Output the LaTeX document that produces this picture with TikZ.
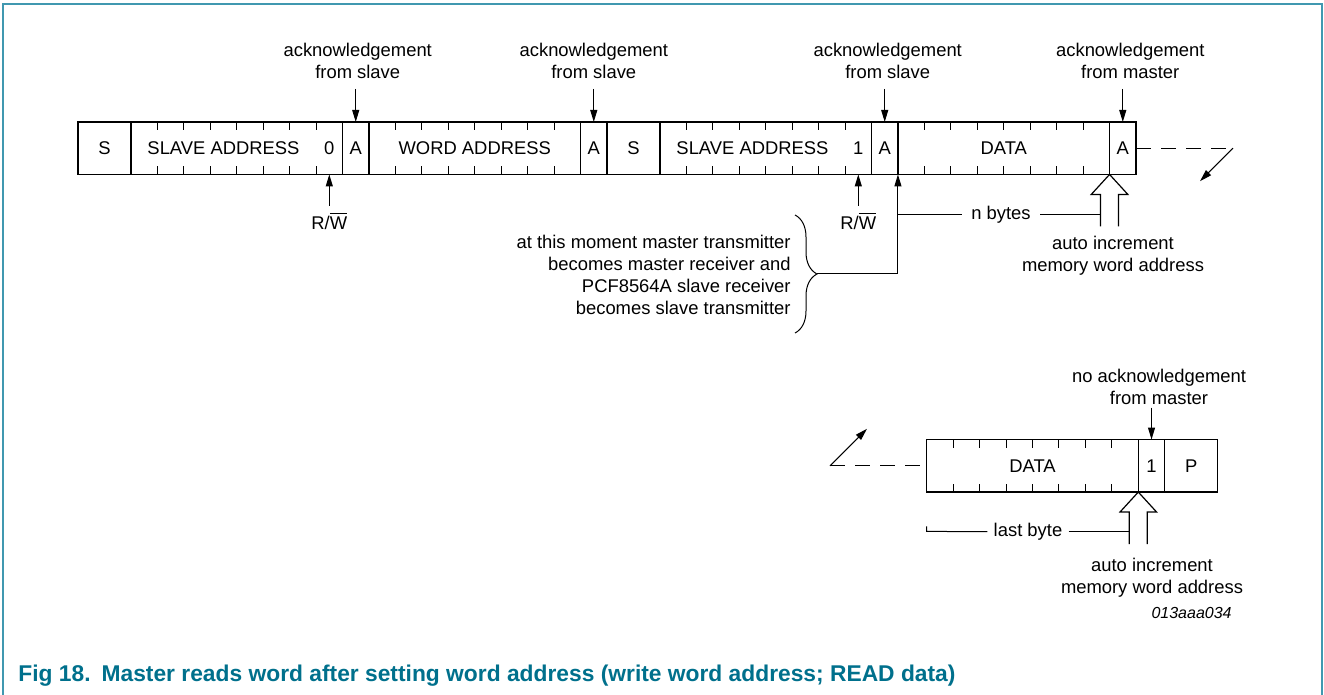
\documentclass[tikz,border=0pt]{standalone}
\usepackage{fontspec}
\setmainfont{Liberation Sans}
\usetikzlibrary{positioning,arrows.meta,decorations.pathreplacing}
\definecolor{figteal}{RGB}{0,112,140}
\definecolor{boxteal}{RGB}{64,152,176}
\tikzset{
  cell/.style={draw, line width=0.65pt, minimum height=26.25pt, inner sep=0pt, outer sep=0pt},
  bits/.style={minimum width=#1*13.225pt},
  bitcell/.style={minimum height=26.25pt, minimum width=13.225pt, inner sep=0pt, outer sep=0pt},
  note/.style={align=center, inner sep=0pt},
  tip/.style={line width=0.5pt, -{Triangle[length=6pt,width=3.5pt]}},
  cont/.style={line width=0.6pt, dash pattern=on 7.5pt off 5pt},
  uparrow/.pic={
    \draw[line width=0.6pt] (-9,52) -- (-9,20) -- (-18.3,20) -- (0,0) -- (18.3,20) -- (9,20) -- (9,52);
    \coordinate (-l) at (-9,40);
  },
}
\begin{document}
\begin{tikzpicture}[x=0.5pt,y=-0.5pt,font=\fontsize{9.2}{11}\selectfont]
    \useasboundingbox (0,0) rectangle (1324,695);
    %% frame
    \draw[boxteal, line width=1pt] (3,695) -- (3,4) -- (1322,4) -- (1322,695);
    %% first line: write word address, then read
    \node[cell, bits=2, anchor=west] (s1) at (78,148.2) {S};
    \node[cell, bits=8, right=0pt of s1] (sa1) {};
    \node[cell, bits=1, right=0pt of sa1] (a1) {A};
    \node[cell, bits=8, right=0pt of a1] (wa) {WORD ADDRESS};
    \node[cell, bits=1, right=0pt of wa] (a2) {A};
    \node[cell, bits=2, right=0pt of a2] (s2) {S};
    \node[cell, bits=8, right=0pt of s2] (sa2) {};
    \node[cell, bits=1, right=0pt of sa2] (a3) {A};
    \node[cell, bits=8, right=0pt of a3] (data1) {DATA};
    \node[cell, bits=1, right=0pt of data1] (a4) {A};
    \node at ([xshift=-6.6pt]sa1.center) {SLAVE ADDRESS};
    \node[bitcell] (r0) at ([xshift=-6.6pt]sa1.east) {0};
    \node at ([xshift=-6.6pt]sa2.center) {SLAVE ADDRESS};
    \node[bitcell] (r1) at ([xshift=-6.6pt]sa2.east) {1};
    %% second line: last byte
    \node[cell, bits=8, anchor=west] (data2) at (926.7,465.8) {DATA};
    \node[cell, bits=1, right=0pt of data2] (one) {1};
    \node[cell, bits=2, right=0pt of one] (p) {P};
    %% bit ticks
    \foreach \f in {sa1,wa,sa2,data1,data2}
      \foreach \k in {1,...,7} {
        \draw[line width=0.5pt] (\f.north west) ++(\k*26.45,0) -- ++(0,8);
        \draw[line width=0.5pt] (\f.south west) ++(\k*26.45,0) -- ++(0,-8);
      }
    %% acknowledge labels
    \node[note, above=21.5pt of a1, xshift=1pt] (ack1) {acknowledgement\\from slave};
    \node[note, above=21.5pt of a2] (ack2) {acknowledgement\\from slave};
    \node[note, above=21.5pt of a3, xshift=1.5pt] (ack3) {acknowledgement\\from slave};
    \node[note, above=21.5pt of a4, xshift=3.75pt] (ack4) {acknowledgement\\from master};
    \node[note, above=17pt of one, xshift=3.75pt] (ack5) {no acknowledgement\\from master};
    \foreach \l/\c in {ack1/a1,ack2/a2,ack3/a3,ack4/a4}
      \draw[tip, shorten <=5pt] (\c.north |- \l.south) -- (\c.north);
    \draw[tip, shorten <=1pt] (one.north |- ack5.south) -- (one.north);
    %% read/write bit
    \node[note, below=18.75pt of r0] (rw1) {R/$\overline{\mbox{W}}$};
    \node[note, below=18.75pt of r1] (rw2) {R/$\overline{\mbox{W}}$};
    \draw[tip, shorten <=3pt] (rw1) -- (r0);
    \draw[tip, shorten <=3pt] (rw2) -- (r1);
    %% direction change
    \node[align=right, inner sep=0pt, anchor=east] (moment) at (791,275)
      {at this moment master transmitter\\becomes master receiver and\\PCF8564A slave receiver\\becomes slave transmitter};
    \draw[line width=0.5pt, decorate, decoration={brace, amplitude=11pt}] (795,215) -- (795,333);
    \coordinate (brtip) at (817,274);
    \draw[tip] (brtip) -| (data1.south west);
    %% auto increment
    \pic (up1) at (data1.south east) {uparrow};
    \pic (up2) at (data2.south east) {uparrow};
    \node[inner xsep=4.5pt, inner ysep=0pt] (nb) at (1001,215) {n bytes};
    \draw[line width=0.5pt] (data1.south west |- nb) -- (nb);
    \draw[line width=0.5pt] (nb) -- (nb -| up1-l);
    \node[inner xsep=3pt, inner ysep=0pt] (lb) at (1028,531.7) {last byte};
    \draw[line width=0.5pt] (data2.south west) ++(0,34.4) -- ++(0,5) -- (lb);
    \draw[line width=0.5pt] (lb) -- (lb -| up2-l);
    \node[note] (inc1) at (1113,256) {auto increment\\memory word address};
    \node[note] (inc2) at (1152,578) {auto increment\\memory word address};
    %% continuation
    \coordinate (cut1) at (1233,148.2);
    \coordinate (cut1e) at (1200,181.2);
    \coordinate (cut2) at (830,465.8);
    \coordinate (cut2e) at (867,428.8);
    \draw[cont] (a4) -- (cut1);
    \draw[tip] (cut1) -- (cut1e);
    \draw[cont] (cut2) -- (data2);
    \draw[tip] (cut2) -- (cut2e);
    %% figure code and caption
    \node[anchor=east, inner sep=0pt, font=\fontsize{8}{10}\selectfont\itshape] (code) at (1232,613) {013aaa034};
    \node[anchor=base west, inner sep=0pt, text=figteal, font=\fontsize{11.4}{14}\selectfont\bfseries] (cap) at (18,681.7)
      {Fig 18.\hspace{5.5pt}Master reads word after setting word address (write word address; READ data)};
\end{tikzpicture}
\end{document}
